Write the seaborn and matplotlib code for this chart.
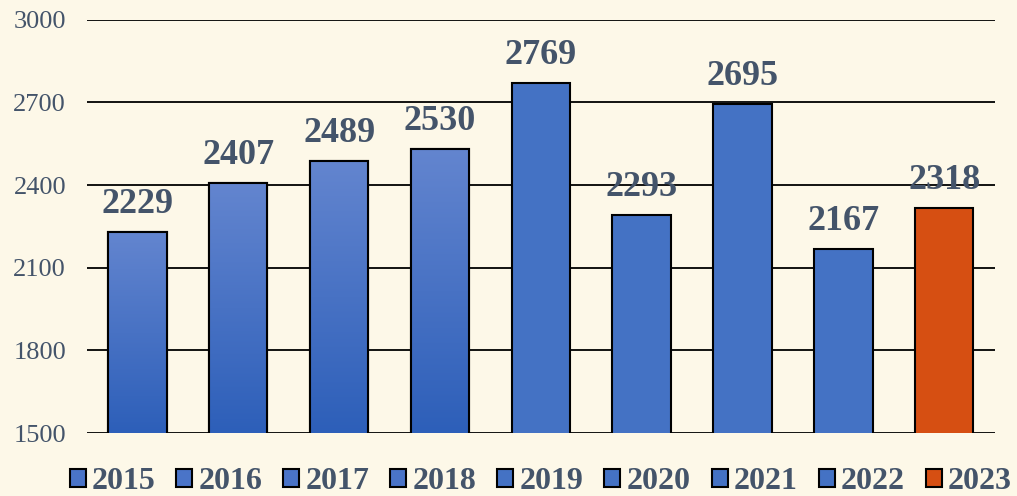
import numpy as np
import pandas as pd
import matplotlib
matplotlib.use("Agg")
import matplotlib.pyplot as plt
import seaborn as sns

# Values
years = ["2015", "2016", "2017", "2018", "2019", "2020", "2021", "2022", "2023"]
counts = [2229, 2407, 2489, 2530, 2769, 2293, 2695, 2167, 2318]
bar_colors = ["#4a74c8", "#4a74c8", "#4a74c8", "#4a74c8",
              "#4472c4", "#4472c4", "#4472c4", "#4472c4", "#d64f12"]
gradient_years = ["2015", "2016", "2017", "2018"]
y_ticks = [1500, 1800, 2100, 2400, 2700, 3000]

bg = "#fdf8e8"
text_color = "#44546a"

df = pd.DataFrame({"Year": years, "Count": counts})

sns.set_style("white")
plt.rcParams["font.family"] = ["Liberation Serif", "DejaVu Serif"]

fig = plt.figure(figsize=(10.17, 4.96), dpi=100, facecolor=bg)
ax = fig.add_axes([0.0855, 0.127, 0.8925, 0.833])
ax.set_facecolor(bg)

sns.barplot(data=df, x="Year", y="Count", hue="Year", palette=bar_colors,
            saturation=1, dodge=False, width=0.58, edgecolor="black",
            linewidth=1.5, legend=True, ax=ax, zorder=3)

ax.set_ylim(1500, 3000)
ax.set_xlim(-0.5, len(years) - 0.5)
ax.set_yticks(y_ticks)
ax.yaxis.grid(True, color="black", linewidth=1.3, zorder=0)
ax.set_axisbelow(True)
for s in ax.spines.values():
    s.set_visible(False)
ax.tick_params(axis="y", length=0, pad=15, labelsize=19, labelcolor=text_color)
ax.tick_params(axis="x", length=0, labelbottom=False)
ax.set_xlabel("")
ax.set_ylabel("")

# gradient fill on the first four bars
grad = np.linspace(0, 1, 256).reshape(-1, 1)
cmap = matplotlib.colors.LinearSegmentedColormap.from_list("g", ["#2d5fb9", "#6385cf"])
for patch, yr in zip(ax.patches, years):
    if yr in gradient_years:
        x0, y0 = patch.get_x(), patch.get_y()
        w, h = patch.get_width(), patch.get_height()
        im = ax.imshow(grad, cmap=cmap, aspect="auto", origin="lower",
                       extent=[x0, x0 + w, 1500, y0 + h], zorder=3.5)
        im.set_clip_path(patch)
        edge = plt.Rectangle((x0, y0), w, h, fill=False, edgecolor="black",
                             linewidth=1.5, zorder=4)
        ax.add_patch(edge)

# value labels
for i, v in enumerate(counts):
    ax.text(i, v + 40, str(v), ha="center", va="bottom", fontsize=26,
            fontweight="bold", color=text_color, zorder=5)

# legend at the bottom
handles, labels = ax.get_legend_handles_labels()
for h in handles:
    h.set_edgecolor("black")
    h.set_linewidth(1.5)
ax.legend(handles, labels, loc="center", bbox_to_anchor=(0.5, -0.118),
          ncol=len(years), frameon=False, handlelength=0.5, handleheight=0.5,
          handletextpad=0.2, columnspacing=0.65, borderpad=0, borderaxespad=0,
          prop={"size": 23, "weight": "bold"}, labelcolor=text_color)

fig.savefig("out.png", dpi=100, facecolor=bg)
